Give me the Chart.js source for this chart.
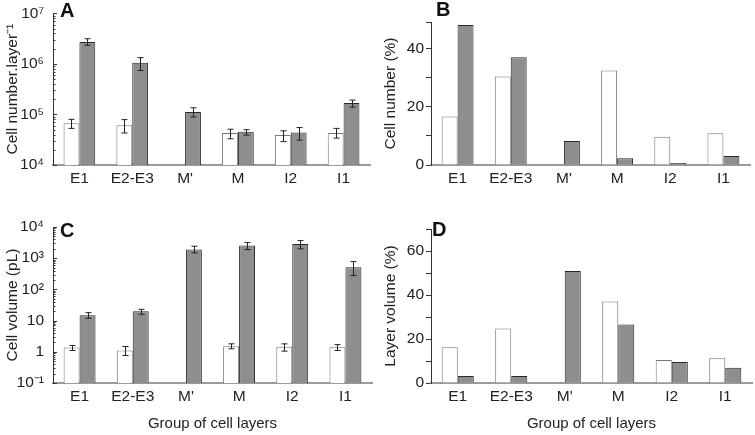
<!DOCTYPE html>
<html>
<head>
<meta charset="utf-8">
<script src="https://cdn.jsdelivr.net/npm/chart.js@4.4.1/dist/chart.umd.min.js"></script>
<style>
  body { margin: 0; background: #fff; }
  .panel { position: absolute; }
</style>
</head>
<body>
<div class="panel" style="left:0;top:0;width:378px;height:200px"><canvas id="chartA"></canvas></div>
<div class="panel" style="left:378px;top:0;width:377px;height:200px"><canvas id="chartB"></canvas></div>
<div class="panel" style="left:0;top:210px;width:378px;height:225px"><canvas id="chartC"></canvas></div>
<div class="panel" style="left:378px;top:210px;width:377px;height:225px"><canvas id="chartD"></canvas></div>
<script>
const categories = ['E1', 'E2-E3', "M'", 'M', 'I2', 'I1'];

// A - cell number per layer
const cellNumWhite   = [67000, 61000, null, 43000, 39000, 43000];
const cellNumWhiteLo = [53000, 43000, null, 33000, 29000, 34000];
const cellNumWhiteHi = [80000, 79000, null, 51000, 47500, 53000];
const cellNumGray    = [2.7e6, 1.05e6, 1.12e5, 4.55e4, 4.4e4, 1.68e5];
const cellNumGrayLo  = [2.33e6, 7.4e5, 8.9e4, 3.9e4, 3.1e4, 1.39e5];
const cellNumGrayHi  = [3.14e6, 1.33e6, 1.35e5, 5.0e4, 5.5e4, 1.92e5];

// B - cell number (%)
const cellPctWhite = [16.6, 30.3, null, 32.4, 9.7, 10.9];
const cellPctGray  = [48, 36.9, 8.2, 2.3, 0.7, 3.1];

// C - cell volume (pL)
const volWhite   = [1.37, 1.1, null, 1.51, 1.44, 1.41];
const volWhiteLo = [1.1, 0.76, null, 1.25, 1.05, 1.1];
const volWhiteHi = [1.6, 1.48, null, 1.8, 1.8, 1.7];
const volGray    = [14.8, 19.8, 1890, 2540, 2870, 516];
const volGrayLo  = [11.9, 16, 1480, 1890, 2000, 280];
const volGrayHi  = [18, 23, 2420, 3170, 3660, 780];

// D - layer volume (%)
const layerPctWhite = [16.2, 24.8, null, 37.1, 10.4, 11.3];
const layerPctGray  = [3.2, 3.2, 50.9, 26.6, 9.5, 6.9];

const FONT = "'Liberation Sans', Arial, sans-serif";
const sup = {'-': '⁻', '0': '⁰', '1': '¹', '2': '²', '3': '³', '4': '⁴', '5': '⁵', '6': '⁶', '7': '⁷', '8': '⁸', '9': '⁹'};

function etiquetaLog(v) {
    const e = Math.round(Math.log10(v));
    if (e === 0) return '1';
    if (e === 1) return '10';
    return '10' + String(e).split('').map(c => sup[c]).join('');
}

// error bars drawn from the bar positions and the y scale
const barrasError = {
    id: 'barrasError',
    afterDatasetsDraw(chart) {
        const ctx = chart.ctx;
        const y = chart.scales.y;
        chart.data.datasets.forEach((ds, i) => {
            if (!ds.errLo) return;
            const meta = chart.getDatasetMeta(i);
            meta.data.forEach((bar, j) => {
                if (ds.errLo[j] == null) return;
                const yLo = y.getPixelForValue(ds.errLo[j]);
                const yHi = y.getPixelForValue(ds.errHi[j]);
                const x = Math.round(bar.x) + 0.5;
                ctx.save();
                ctx.strokeStyle = '#222';
                ctx.lineWidth = 1;
                ctx.beginPath();
                ctx.moveTo(x, yLo); ctx.lineTo(x, yHi);
                ctx.moveTo(x - 3, yLo); ctx.lineTo(x + 3, yLo);
                ctx.moveTo(x - 3, yHi); ctx.lineTo(x + 3, yHi);
                ctx.stroke();
                ctx.restore();
            });
        });
    }
};

// minor ticks inside log axes
const ticksMenores = {
    id: 'ticksMenores',
    afterDraw(chart) {
        const y = chart.scales.y;
        if (y.type !== 'logarithmic') return;
        const ctx = chart.ctx;
        const x0 = y.right;
        ctx.save();
        ctx.strokeStyle = '#333';
        ctx.lineWidth = 1;
        ctx.beginPath();
        for (let e = Math.round(Math.log10(y.min)); e < Math.round(Math.log10(y.max)); e++) {
            for (let k = 1; k <= 9; k++) {
                const py = Math.round(y.getPixelForValue(k * Math.pow(10, e))) + 0.5;
                const len = k === 1 ? 4 : 2.5;
                ctx.moveTo(x0, py); ctx.lineTo(x0 + len, py);
            }
        }
        const pTop = Math.round(y.getPixelForValue(y.max)) + 0.5;
        ctx.moveTo(x0, pTop); ctx.lineTo(x0 + 4, pTop);
        ctx.stroke();
        ctx.restore();
    }
};

const letraPanel = {
    id: 'letraPanel',
    afterDraw(chart, args, opts) {
        const ctx = chart.ctx;
        ctx.save();
        ctx.font = 'bold 20px ' + FONT;
        ctx.fillStyle = '#111';
        ctx.textBaseline = 'middle';
        ctx.fillText(opts.text, opts.x, opts.y);
        ctx.restore();
    }
};

function datasets(blanco, gris, blancoLo, blancoHi, grisLo, grisHi) {
    return [{
        data: blanco,
        backgroundColor: '#ffffff',
        borderColor: '#777777',
        borderWidth: 1,
        errLo: blancoLo, errHi: blancoHi
    }, {
        data: gris,
        backgroundColor: '#8e8e90',
        borderColor: '#2a2a2a',
        borderWidth: 1,
        errLo: grisLo, errHi: grisHi
    }];
}

function crearGrafica(id, cfg) {
    const ejeY = {
        type: cfg.log ? 'logarithmic' : 'linear',
        min: cfg.min,
        max: cfg.max,
        border: { display: true, color: '#333', width: 1 },
        grid: { display: !cfg.log, drawOnChartArea: false, tickLength: 5, tickColor: '#333' },
        ticks: {
            font: { family: FONT, size: 15.5 },
            color: '#222',
            padding: cfg.log ? 4 : 2,
            autoSkip: false,
            stepSize: cfg.step,
            callback: cfg.log ? (v) => etiquetaLog(v) : (v) => (v % 20 === 0 ? v : '')
        },
        title: {
            display: true,
            text: cfg.yTitle,
            font: { family: FONT, size: 15.5 },
            color: '#222',
            padding: { top: 3, bottom: 0 }
        },
        afterFit: (s) => { s.width = 53; }
    };
    if (cfg.log) {
        ejeY.afterBuildTicks = (s) => {
            const t = [];
            for (let v = cfg.min; v <= cfg.max * 1.0001; v *= 10) t.push({ value: v });
            s.ticks = t;
        };
    }
    return new Chart(document.getElementById(id), {
        type: 'bar',
        data: { labels: categories, datasets: cfg.datasets },
        options: {
            responsive: true,
            maintainAspectRatio: false,
            animation: false,
            layout: { padding: cfg.padding },
            datasets: { bar: { categoryPercentage: 0.6, barPercentage: 1.0 } },
            plugins: {
                legend: { display: false },
                tooltip: { enabled: false },
                letraPanel: cfg.letra
            },
            scales: {
                x: {
                    border: { display: true, color: '#9a9a9a', width: 2 },
                    grid: { display: false, drawTicks: false, tickLength: 0 },
                    ticks: { font: { family: FONT, size: 15.5 }, color: '#222', padding: 4 },
                    title: {
                        display: !!cfg.xTitle,
                        text: cfg.xTitle || '',
                        font: { family: FONT, size: 15 },
                        color: '#222',
                        padding: { top: 10, bottom: 2 }
                    },
                    afterFit: (s) => { s.height = cfg.xHeight; }
                },
                y: ejeY
            }
        },
        plugins: [barrasError, ticksMenores, letraPanel]
    });
}

crearGrafica('chartA', {
    log: true, min: 1e4, max: 1e7,
    yTitle: 'Cell number.layer⁻¹',
    datasets: datasets(cellNumWhite, cellNumGray, cellNumWhiteLo, cellNumWhiteHi, cellNumGrayLo, cellNumGrayHi),
    padding: { left: 0, top: 10, right: 8, bottom: 0 },
    xHeight: 35,
    letra: { text: 'A', x: 60, y: 11 }
});

crearGrafica('chartB', {
    log: false, min: 0, max: 49, step: 10,
    yTitle: 'Cell number (%)',
    datasets: datasets(cellPctWhite, cellPctGray),
    padding: { left: 0, top: 22, right: 5, bottom: 0 },
    xHeight: 35,
    letra: { text: 'B', x: 58, y: 10 }
});

crearGrafica('chartC', {
    log: true, min: 0.1, max: 1e4,
    yTitle: 'Cell volume (pL)',
    xTitle: 'Group of cell layers',
    datasets: datasets(volWhite, volGray, volWhiteLo, volWhiteHi, volGrayLo, volGrayHi),
    padding: { left: 0, top: 17, right: 6, bottom: 0 },
    xHeight: 52,
    letra: { text: 'C', x: 60, y: 21 }
});

crearGrafica('chartD', {
    log: false, min: 0, max: 70, step: 10,
    yTitle: 'Layer volume (%)',
    xTitle: 'Group of cell layers',
    datasets: datasets(layerPctWhite, layerPctGray),
    padding: { left: 0, top: 19, right: 3, bottom: 0 },
    xHeight: 52,
    letra: { text: 'D', x: 54, y: 20 }
});
</script>
</body>
</html>
